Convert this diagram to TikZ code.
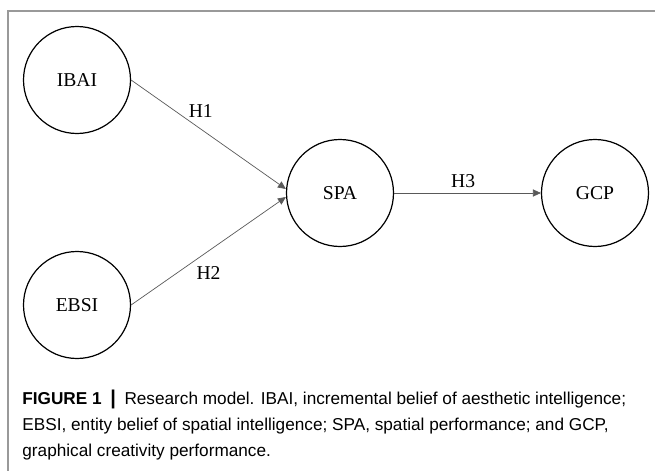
\documentclass[tikz,border=0pt]{standalone}
\usepackage{fontspec}
\setmainfont{Liberation Serif}
\newfontfamily\capfont{Liberation Sans}
\usetikzlibrary{arrows.meta}

\tikzset{
	construct/.style = {draw, circle, line width=0.6pt, minimum size=53.5pt, inner sep=0pt, font=\fontsize{9.8}{11}\selectfont},
	path/.style = {-{Triangle[length=4pt,width=3.6pt]}, gray!70!black, line width=0.35pt},
	hyp/.style = {text=black, font=\fontsize{9.8}{11}\selectfont, inner sep=1pt}
}

\begin{document}
\begin{tikzpicture}[x=0.5pt, y=-0.5pt]
					\useasboundingbox (0,0) rectangle (655,471);
					
					% frame
					\draw[gray!80, line width=0.75pt] (655,11) -- (8,11) -- (8,471);
					
					\node[construct](ibai) at (77,80) {IBAI};
					\node[construct](ebsi) at (77,305) {EBSI};
					\node[construct](spa) at (340,193) {SPA};
					\node[construct](gcp) at (595,193) {GCP};
					
					\draw[path] (ibai.east) -- node[hyp, pos=0.45, yshift=9pt]{H1} ([yshift=2pt]spa.west);
					\draw[path] (ebsi.east) -- node[hyp, pos=0.5, yshift=-11pt]{H2} ([yshift=-2pt]spa.west);
					\draw[path] (spa.east) -- node[hyp, pos=0.47, yshift=6pt]{H3} (gcp.west);
					
					\node[anchor=north west, align=left, inner sep=0pt, font=\capfont\fontsize{8.6}{13}\selectfont](caption) at (22,390)
					{\textbf{FIGURE 1}\enspace{\fontsize{10}{13}\selectfont\textbf{|}}\enspace Research model. IBAI, incremental belief of aesthetic intelligence;\\
					EBSI, entity belief of spatial intelligence; SPA, spatial performance; and GCP,\\
					graphical creativity performance.};
\end{tikzpicture}
\end{document}
